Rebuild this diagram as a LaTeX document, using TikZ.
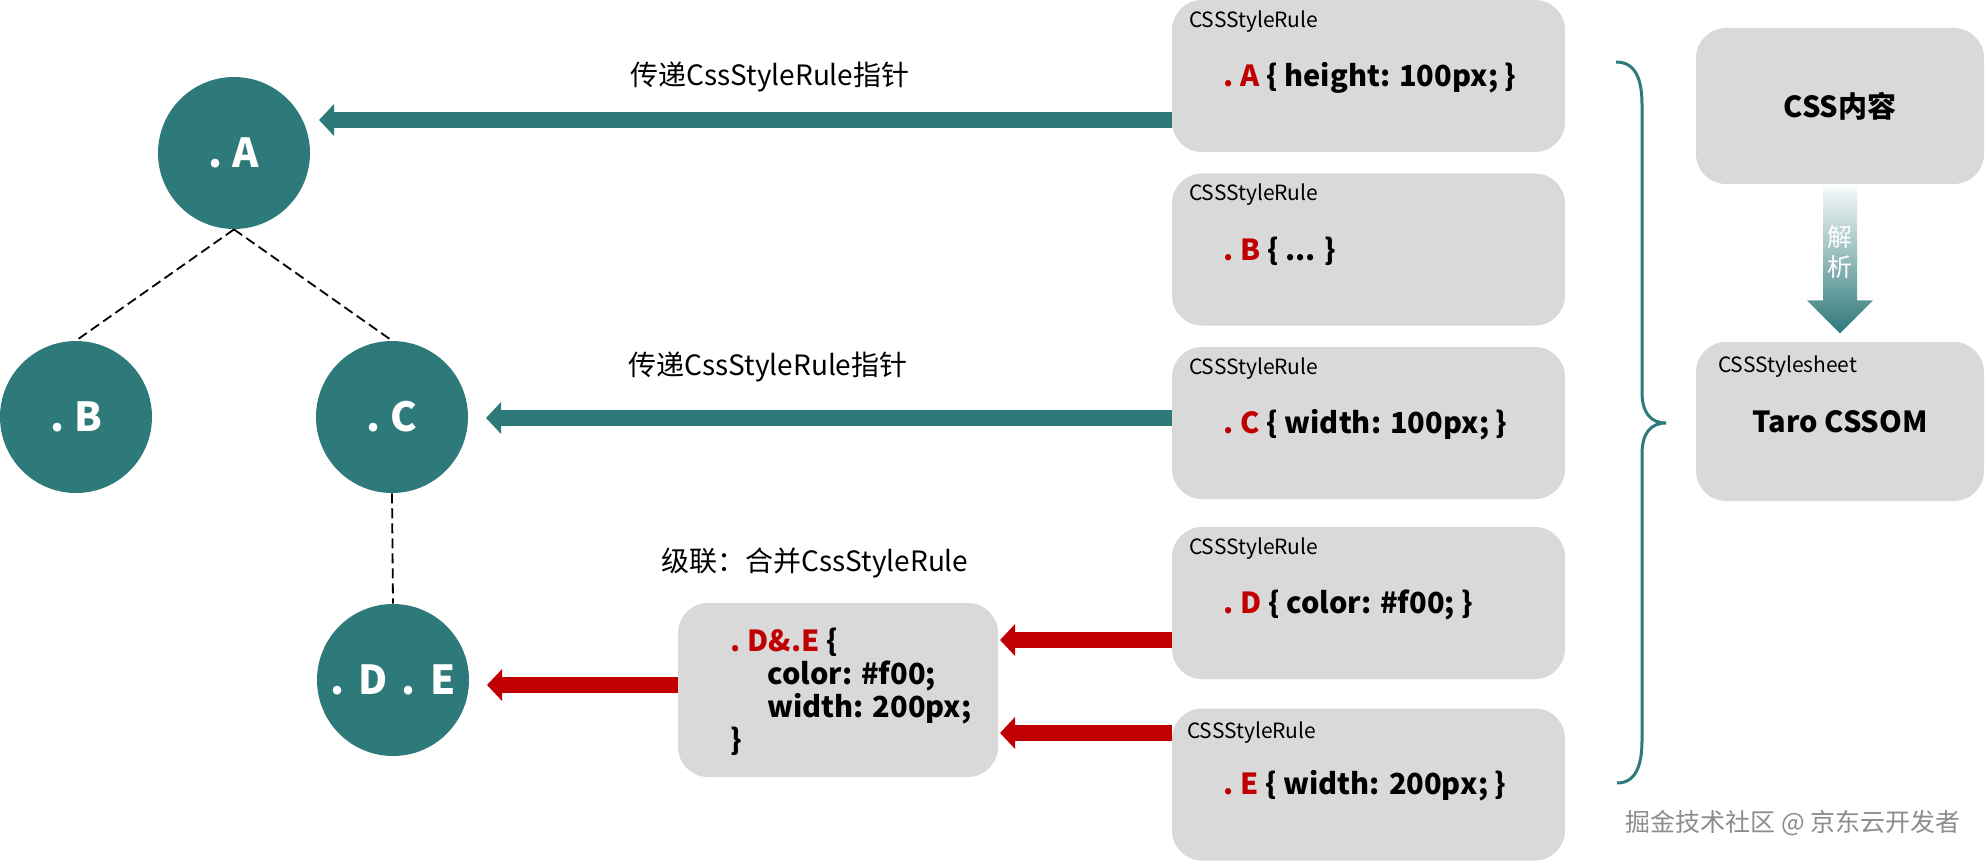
\documentclass[tikz,border=0pt]{standalone}
\usepackage{fontspec}
\setmainfont{Noto Sans CJK SC}
\usetikzlibrary{arrows.meta}

\definecolor{tealc}{RGB}{46,121,122}
\definecolor{redc}{RGB}{192,0,0}
\definecolor{boxgray}{RGB}{217,217,217}
\definecolor{markgray}{RGB}{140,140,140}

\newcommand{\codefont}[1]{\bfseries\fontsize{14.5pt}{#1}\selectfont}
\newcommand{\sel}[1]{\textcolor{redc}{#1}}

\tikzset{
	treenode/.style={circle, fill=tealc, minimum size=76pt, inner sep=0pt, text=white, font=\bfseries\fontsize{20pt}{23pt}\selectfont},
	rulebox/.style={rounded corners=15pt, fill=boxgray, minimum width=196.5pt, minimum height=76pt, inner sep=0pt},
	rulelabel/.style={anchor=west, inner sep=0pt, font=\fontsize{10.5pt}{12pt}\selectfont},
	ruletext/.style={anchor=west, inner sep=0pt, font=\codefont{18pt}},
	note/.style={inner sep=0pt, font=\fontsize{14pt}{16pt}\selectfont},
	treeedge/.style={draw=black, line width=0.9pt, dash pattern=on 5pt off 2.5pt},
	tealarrow/.style={draw=tealc, line width=8pt, -{Triangle[length=7.5pt,width=15.5pt]}},
	redarrow/.style={draw=redc, line width=8pt, -{Triangle[length=7.5pt,width=15.5pt]}}
}

\begin{document}
\begin{tikzpicture}[x=0.5pt, y=-0.5pt]
	\useasboundingbox (0,0) rectangle (1985,861);

	% selector tree
	\node[treenode] (A) at (234,153) {.\hspace{0.25em}A};
	\node[treenode] (B) at (76,417) {.\hspace{0.25em}B};
	\node[treenode] (C) at (392,417) {.\hspace{0.25em}C};
	\node[treenode] (DE) at (393,680) {.\hspace{0.35em}D\hspace{0.35em}.\hspace{0.35em}E};
	\draw[treeedge] (A.south) -- (B.north);
	\draw[treeedge] (A.south) -- (C.north);
	\draw[treeedge] (C.south) -- (DE.north);

	% style rules
	\node[rulebox] (ruleA) at (1368.5,76) {};
	\node[rulelabel] (tagA) at ([shift={(17,22)}]ruleA.north west) {CSSStyleRule};
	\node[ruletext] (codeA) at ([shift={(51,78)}]ruleA.north west) {\sel{.\hspace{0.25em}A} \{ height: 100px; \}};

	\node[rulebox] (ruleB) at (1368.5,249.5) {};
	\node[rulelabel] (tagB) at ([shift={(17,22)}]ruleB.north west) {CSSStyleRule};
	\node[ruletext] (codeB) at ([shift={(51,78)}]ruleB.north west) {\sel{.\hspace{0.25em}B} \{ ... \}};

	\node[rulebox] (ruleC) at (1368.5,423) {};
	\node[rulelabel] (tagC) at ([shift={(17,22)}]ruleC.north west) {CSSStyleRule};
	\node[ruletext] (codeC) at ([shift={(51,78)}]ruleC.north west) {\sel{.\hspace{0.25em}C} \{ width: 100px; \}};

	\node[rulebox] (ruleD) at (1368.5,603) {};
	\node[rulelabel] (tagD) at ([shift={(17,22)}]ruleD.north west) {CSSStyleRule};
	\node[ruletext] (codeD) at ([shift={(51,78)}]ruleD.north west) {\sel{.\hspace{0.25em}D} \{ color: \#f00; \}};

	\node[rulebox] (ruleE) at (1368.5,784.5) {};
	\node[rulelabel] (tagE) at ([shift={(15,24)}]ruleE.north west) {CSSStyleRule};
	\node[ruletext] (codeE) at ([shift={(51,78)}]ruleE.north west) {\sel{.\hspace{0.25em}E} \{ width: 200px; \}};

	% merged rule
	\node[rulebox, minimum width=160pt, minimum height=87pt] (merged) at (838,690) {};
	\node[ruletext, align=left, font=\codefont{16.5pt}] (mergedCode) at (730,692)
		{\sel{.\hspace{0.25em}D\&.E} \{\\\hspace{18.5pt}color: \#f00;\\\hspace{18.5pt}width: 200px;\\\}};

	% labels
	\node[note] (passA) at (770,77) {传递CssStyleRule指针};
	\node[note] (passC) at (768,367) {传递CssStyleRule指针};
	\node[note] (mergeTag) at (815,563) {级联：合并CssStyleRule};

	% arrows
	\coordinate (tipA) at (319,120);
	\coordinate (tipC) at (486,418);
	\coordinate (tipDE) at (487,685);
	\coordinate (inD) at (1000,640);
	\coordinate (inE) at (1000,733);
	\draw[tealarrow] (ruleA.west |- tipA) -- (tipA);
	\draw[tealarrow] (ruleC.west |- tipC) -- (tipC);
	\draw[redarrow] (ruleD.west |- inD) -- (inD);
	\draw[redarrow] (ruleE.west |- inE) -- (inE);
	\draw[redarrow] (merged.west |- tipDE) -- (tipDE);

	% brace
	\draw[tealc, line width=1.5pt] (1616,62) .. controls (1636,62) and (1642,80) .. (1642,105) -- (1642,392)
		.. controls (1642,412) and (1650,423) .. (1666,423) .. controls (1650,423) and (1642,434) .. (1642,454)
		-- (1642,740) .. controls (1642,765) and (1636,783) .. (1617,783);

	% css source and cssom
	\node[rulebox, minimum width=144pt, minimum height=78pt, font=\bfseries\fontsize{14.5pt}{17pt}\selectfont] (cssText) at (1840,106) {CSS内容};
	\node[rulebox, minimum width=144pt, minimum height=79.5pt, font=\bfseries\fontsize{14.5pt}{17pt}\selectfont] (cssom) at (1840,421.5) {Taro CSSOM};
	\node[rulelabel] (sheetTag) at ([shift={(22,25)}]cssom.north west) {CSSStylesheet};
	\shade[top color=tealc!3, bottom color=tealc] (cssText.south) ++(-17,3) -- ++(0,113) -- ++(-16,0) -- ++(33,33)
		-- ++(33,-33) -- ++(-16,0) -- ++(0,-113) -- cycle;
	\node[text=white, align=center, font=\fontsize{12.5pt}{15pt}\selectfont] (parseTag) at (1840,252) {解\\析};

	\node[text=markgray, font=\fontsize{12.5pt}{14pt}\selectfont] (mark) at (1793,823) {掘金技术社区 @ 京东云开发者};
\end{tikzpicture}
\end{document}
